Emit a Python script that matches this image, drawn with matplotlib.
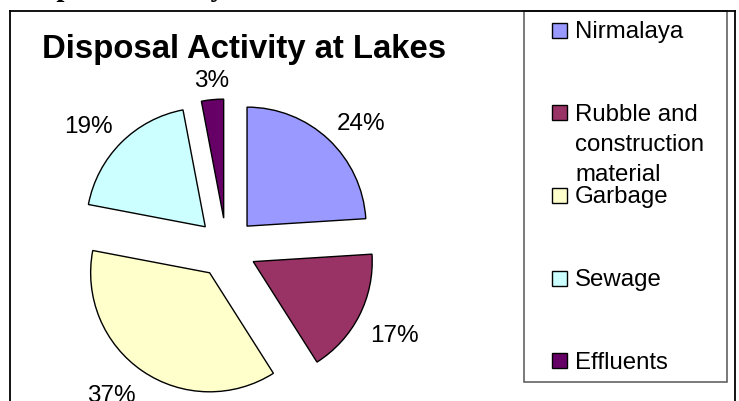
"""
Disposal activity at lakes - exploded pie
"""

import matplotlib
matplotlib.use('Agg')
import matplotlib.pyplot as plt
from matplotlib.patches import Rectangle
import numpy as np

categories = ['Nirmalaya', 'Rubble and\nconstruction\nmaterial', 'Garbage', 'Sewage', 'Effluents']
shares = [24, 17, 37, 19, 3]
colors = ['#9999FF', '#993366', '#FFFFCC', '#CCFFFF', '#660066']
title = 'Disposal Activity at Lakes'
header = 'Disposal Activity'

W, H = 739, 402
R = 119.0          # pie radius in pixels
CX, CY = 226.5, 249.0  # pie centre in pixels

fig = plt.figure(figsize=(W / 100, H / 100), dpi=100)

# pie axes, scaled so that one data unit is one pie radius
ax = fig.add_axes([0, 0, 1, 1])
wedges, _ = ax.pie(shares, colors=colors, startangle=90, counterclock=False,
                   explode=[0.252] * len(shares), radius=1,
                   wedgeprops=dict(edgecolor='black', linewidth=1.0))
ax.set_aspect('auto')
ax.set_xlim(-CX / R, (W - CX) / R)
ax.set_ylim((CY - H) / R, CY / R)
ax.axis('off')

# labels: the corner of the text box nearest the slice sits on the bisector
for w, v in zip(wedges, shares):
    mid = np.deg2rad((w.theta1 + w.theta2) / 2)
    c, s = np.cos(mid), np.sin(mid)
    x = w.center[0] + 1.1 * w.r * c
    y = w.center[1] + 1.1 * w.r * s - 3 / R
    if abs(c) < 0.2:
        ha = 'center'
    else:
        ha = 'left' if c > 0 else 'right'
    ax.text(x, y, f'{v}%', ha=ha, va='bottom' if s > 0 else 'top',
            fontsize=17.5, family='Liberation Sans', color='black',
            clip_on=False)

# overlay in pixel coordinates for frame, title and legend
px = fig.add_axes([0, 0, 1, 1])
px.set_xlim(0, W)
px.set_ylim(H, 0)
px.axis('off')
px.patch.set_alpha(0)

# cut-off document heading above the chart
px.text(16, -3.5, header, ha='left', va='baseline', fontsize=21,
        family='Liberation Serif', fontweight='bold', clip_on=False)

# chart frame
px.plot([10, 10], [12, H + 5], color='black', lw=1.3, clip_on=False)
px.plot([10, 735], [12, 12], color='black', lw=1.3)
px.plot([735, 735], [12, H + 5], color='black', lw=1.3, clip_on=False)

px.text(244, 58, title, ha='center', va='baseline', fontsize=23.7,
        family='Liberation Sans', fontweight='bold')

# legend
px.add_patch(Rectangle((524, 12), 203, 371, facecolor='white',
                       edgecolor='#555555', lw=1.1))
for i, (lab, c) in enumerate(zip(categories, colors)):
    yc = 31 + i * 82.7
    px.add_patch(Rectangle((552, yc - 7.5), 15, 15, facecolor=c,
                           edgecolor='black', lw=1.0))
    for j, line in enumerate(lab.split('\n')):
        px.text(575, yc + 7 + j * 30, line, ha='left', va='baseline',
                fontsize=17.3, family='Liberation Sans')

fig.savefig('out.png', dpi=100)
